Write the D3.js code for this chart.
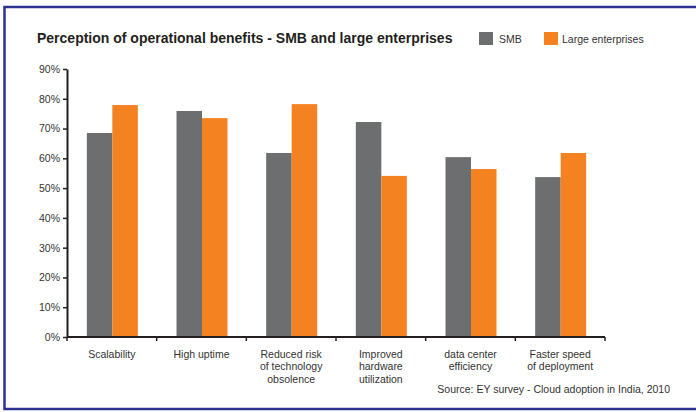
<!DOCTYPE html>
<html>
<head>
<meta charset="utf-8">
<script src="https://cdn.jsdelivr.net/npm/d3@7"></script>
<style>
  html, body { margin: 0; padding: 0; background: #fff; }
  svg { display: block; font-family: "Liberation Sans", Arial, sans-serif; }
</style>
</head>
<body>
<svg id="chart" width="696" height="412"></svg>
<script>
// Survey results: share of respondents citing each operational benefit
const categories = [
  "Scalability",
  "High uptime",
  "Reduced risk\nof technology\nobsolence",
  "Improved\nhardware\nutilization",
  "data center\nefficiency",
  "Faster speed\nof deployment"
];
const seriesNames = ["SMB", "Large enterprises"];
const smbValues = [0.685, 0.759, 0.618, 0.722, 0.604, 0.537];
const largeValues = [0.779, 0.735, 0.782, 0.541, 0.564, 0.618];
const yTicks = [0, 0.1, 0.2, 0.3, 0.4, 0.5, 0.6, 0.7, 0.8, 0.9];
const seriesColors = ["#6d6e70", "#f58220"];

const titleText = "Perception of operational benefits - SMB and large enterprises";
const sourceText = "Source: EY survey - Cloud adoption in India, 2010";

const svg = d3.select("#chart");
const axisColor = "#231f20";
const textColor = "#333333";

// Frame (open on the right side)
svg.append("path")
  .attr("d", "M700,7 H4.5 V409 H700")
  .attr("fill", "none")
  .attr("stroke", "#2e3192")
  .attr("stroke-width", 2.5);

// Scales
const y = d3.scaleLinear().domain([0, 0.9]).range([337, 69]);
const x = d3.scaleBand().domain(categories).range([67, 605]).padding(0);
const inner = d3.scaleBand().domain(seriesNames).range([-25, 26]);

const rows = categories.map((c, i) => ({ cat: c, values: [smbValues[i], largeValues[i]] }));

// Bars
const groups = svg.append("g").selectAll("g")
  .data(rows).join("g")
  .attr("transform", d => `translate(${x(d.cat) + x.bandwidth() / 2},0)`);

groups.selectAll("rect")
  .data(d => d.values.map((v, k) => ({ name: seriesNames[k], v, k })))
  .join("rect")
  .attr("x", d => inner(d.name))
  .attr("width", inner.bandwidth())
  .attr("y", d => y(d.v))
  .attr("height", d => y(0) - y(d.v))
  .attr("fill", d => seriesColors[d.k]);

// Y axis
const yAxis = svg.append("g")
  .attr("transform", "translate(67,0)")
  .call(d3.axisLeft(y).tickValues(yTicks).tickFormat(d3.format(".0%"))
    .tickSize(4).tickSizeOuter(0).tickPadding(3));
yAxis.select(".domain").attr("stroke", axisColor).attr("stroke-width", 2);
yAxis.selectAll(".tick line").attr("stroke", axisColor).attr("stroke-width", 1.5);
yAxis.selectAll(".tick text")
  .attr("fill", textColor)
  .style("font-size", "10.5px")
  .style("font-family", "'Liberation Sans', Arial, sans-serif");

// X axis: ticks at band boundaries
const xAxisG = svg.append("g");
xAxisG.append("line")
  .attr("x1", x.range()[0]).attr("x2", x.range()[1])
  .attr("y1", y(0)).attr("y2", y(0))
  .attr("stroke", axisColor).attr("stroke-width", 2);
const boundaries = categories.map(c => x(c)).concat([x.range()[1]]);
xAxisG.selectAll("line.tick")
  .data(boundaries).join("line")
  .attr("class", "tick")
  .attr("x1", d => d).attr("x2", d => d)
  .attr("y1", y(0)).attr("y2", y(0) + 4)
  .attr("stroke", axisColor).attr("stroke-width", 1.5);

// Category labels
const labels = svg.append("g").selectAll("text")
  .data(categories).join("text")
  .attr("x", d => x(d) + x.bandwidth() / 2)
  .attr("y", 357.5)
  .attr("text-anchor", "middle")
  .attr("fill", textColor)
  .style("font-size", "10.5px");
labels.selectAll("tspan")
  .data(d => d.split("\n"))
  .join("tspan")
  .attr("x", function () { return d3.select(this.parentNode).attr("x"); })
  .attr("dy", (d, i) => i === 0 ? 0 : 12.5)
  .text(d => d);

// Title
svg.append("text")
  .attr("x", 37).attr("y", 43)
  .attr("fill", axisColor)
  .style("font-size", "14px")
  .style("font-weight", "bold")
  .text(titleText);

// Legend
const legendX = [479, 544];
const legend = svg.append("g").selectAll("g")
  .data(seriesNames).join("g")
  .attr("transform", (d, i) => `translate(${legendX[i]},32)`);
legend.append("rect")
  .attr("width", 14).attr("height", 13)
  .attr("fill", (d, i) => seriesColors[i]);
legend.append("text")
  .attr("x", (d, i) => i === 0 ? 20 : 18)
  .attr("y", 11)
  .attr("fill", textColor)
  .style("font-size", "10.5px")
  .text(d => d);

// Source note
svg.append("text")
  .attr("x", 670).attr("y", 393)
  .attr("text-anchor", "end")
  .attr("fill", textColor)
  .style("font-size", "10.5px")
  .text(sourceText);
</script>
</body>
</html>
